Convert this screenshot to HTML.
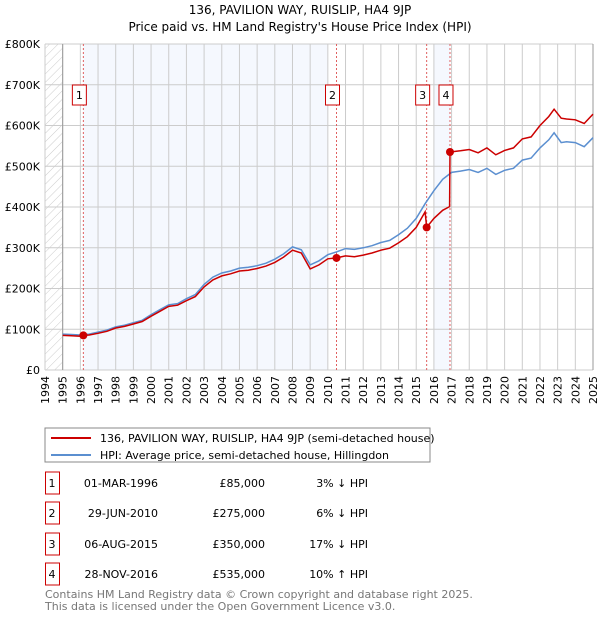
<!DOCTYPE html>
<html><head><meta charset="utf-8"><style>
body{margin:0;background:#fff;width:600px;height:620px;overflow:hidden;font-family:"Liberation Sans","DejaVu Sans",sans-serif}
svg text{font-family:"DejaVu Sans","Liberation Sans",sans-serif}
</style></head><body>
<svg id="c" width="600" height="620" xmlns="http://www.w3.org/2000/svg">
<defs><pattern id="hatch" width="6" height="6" patternUnits="userSpaceOnUse" patternTransform="rotate(45)"><line x1="0" y1="0" x2="0" y2="6" stroke="#ccc" stroke-width="1"/></pattern></defs>
<text x="300" y="14" text-anchor="middle" font-size="12">136, PAVILION WAY, RUISLIP, HA4 9JP</text>
<text x="300" y="31" text-anchor="middle" font-size="12">Price paid vs. HM Land Registry's House Price Index (HPI)</text>
<g id="plot"></g>
<rect x="45" y="428" width="385" height="34" fill="#fff" stroke="#888"/>
<line x1="51" y1="438" x2="91" y2="438" stroke="#cc0000" stroke-width="2"/>
<text x="100" y="442" font-size="11">136, PAVILION WAY, RUISLIP, HA4 9JP (semi-detached house)</text>
<line x1="51" y1="455" x2="91" y2="455" stroke="#5b8fd0" stroke-width="2"/>
<text x="100" y="459" font-size="11">HPI: Average price, semi-detached house, Hillingdon</text>
<g id="table"></g>
<text x="45" y="598" font-size="11" fill="#777">Contains HM Land Registry data © Crown copyright and database right 2025.</text>
<text x="45" y="610" font-size="11" fill="#777">This data is licensed under the Open Government Licence v3.0.</text>
</svg>
<script>
const hpiYears=[1995,1995.5,1996,1996.5,1997,1997.5,1998,1998.5,1999,1999.5,2000,2000.5,2001,2001.5,2002,2002.5,2003,2003.5,2004,2004.5,2005,2005.5,2006,2006.5,2007,2007.5,2008,2008.5,2009,2009.5,2010,2010.5,2011,2011.5,2012,2012.5,2013,2013.5,2014,2014.5,2015,2015.5,2016,2016.5,2017,2017.5,2018,2018.5,2019,2019.5,2020,2020.5,2021,2021.5,2022,2022.5,2022.8,2023.2,2023.5,2024,2024.5,2025];
const hpiValues=[88,87,86,88,93,98,106,110,116,122,136,148,160,163,175,185,210,228,238,243,250,252,256,262,272,285,302,295,258,268,283,290,298,296,300,305,313,318,332,348,372,408,440,468,485,488,492,485,495,480,490,495,515,520,545,565,582,558,560,558,548,570];
const redYears=[1995,1995.5,1996,1996.17,1996.5,1997,1997.5,1998,1998.5,1999,1999.5,2000,2000.5,2001,2001.5,2002,2002.5,2003,2003.5,2004,2004.5,2005,2005.5,2006,2006.5,2007,2007.5,2008,2008.5,2009,2009.5,2010,2010.49,2011,2011.5,2012,2012.5,2013,2013.5,2014,2014.5,2015,2015.5,2015.59,2016,2016.5,2016.89,2016.91,2017.5,2018,2018.5,2019,2019.5,2020,2020.5,2021,2021.5,2022,2022.5,2022.8,2023.2,2023.5,2024,2024.5,2025];
const redValues=[85,84,83,85,86,90,95,103,107,113,119,132,144,156,159,170,180,204,221,231,236,243,245,249,255,264,277,294,287,248,258,273,275,280,278,282,287,294,299,312,327,350,388,350,372,392,401,535,538,541,533,545,528,539,545,567,572,600,622,640,618,616,614,605,628];
const saleDates=[1996.17,2010.49,2015.59,2016.91];
const salePrices=[85,275,350,535];
const saleLabels=["1","2","3","4"];
const saleDateText=["01-MAR-1996","29-JUN-2010","06-AUG-2015","28-NOV-2016"];
const salePriceText=["£85,000","£275,000","£350,000","£535,000"];
const saleHpiText=["3% ↓ HPI","6% ↓ HPI","17% ↓ HPI","10% ↑ HPI"];
const yTicks=[0,100,200,300,400,500,600,700,800];
const yTickLabels=["£0","£100K","£200K","£300K","£400K","£500K","£600K","£700K","£800K"];
const NS="http://www.w3.org/2000/svg";
const X0=45,X1=593,Y0=370,Y1=44;
const x=t=>X0+(t-1994)/31*(X1-X0);
const y=v=>Y0-v/800*(Y0-Y1);
function mk(tag,attrs,parent){const e=document.createElementNS(NS,tag);for(const k in attrs)e.setAttribute(k,attrs[k]);parent.appendChild(e);return e;}
const g=document.getElementById('plot');
let r=mk('rect',{x:X0,y:Y1,width:X1-X0,height:Y0-Y1,fill:'#fff'},g);


r=mk('rect',{x:X0,y:Y1,width:x(1995)-X0,height:Y0-Y1,fill:'url(#hatch)'},g);


r=mk('rect',{x:x(saleDates[0]),y:Y1,width:x(2010)-x(saleDates[0]),height:Y0-Y1,fill:'#f5f8fe'},g);


r=mk('rect',{x:x(2016),y:Y1,width:x(saleDates[3])-x(2016),height:Y0-Y1,fill:'#f5f8fe'},g);


for(let yr=1994;yr<=2025;yr++){
  const l=mk('line',{x1:x(yr),x2:x(yr),y1:Y1,y2:Y0,stroke:'#ccc','stroke-width':1},g);
  
  
  const t=mk('text',{x:0,y:0,'font-size':11,'text-anchor':'end',transform:`translate(${x(yr)+4},${Y0+6}) rotate(-90)`},g);
  t.textContent=yr;
  
  
}
yTicks.forEach((v,i)=>{
  const l=mk('line',{x1:X0,x2:X1,y1:y(v),y2:y(v),stroke:'#ccc','stroke-width':1},g);
  
  
  const t=mk('text',{x:40,y:y(v)+4,'font-size':11,'text-anchor':'end'},g);
  t.textContent=yTickLabels[i];
  
  
});
let l=mk('line',{x1:x(1995),x2:x(1995),y1:Y1,y2:Y0,stroke:'#999'},g);


l=mk('line',{x1:X1,x2:X1,y1:Y1,y2:Y0,stroke:'#999'},g);


saleDates.forEach((d,i)=>{
  const dl=mk('line',{x1:x(d),x2:x(d),y1:Y1,y2:Y0,stroke:'#e06060','stroke-dasharray':'2,2'},g);
  
  
  const b=mk('rect',{x:x(d)-11,y:85,width:14,height:20,fill:'#fff',stroke:'#c00'},g);
  
  
  const t=mk('text',{x:x(d)-4,y:99,'font-size':11,'text-anchor':'middle'},g);
  t.textContent=saleLabels[i];
  
  
});
const pts=(xs,vs)=>xs.map((t,i)=>x(t).toFixed(1)+','+y(vs[i]).toFixed(1)).join(' ');
let p=mk('polyline',{points:pts(hpiYears,hpiValues),fill:'none',stroke:'#5b8fd0','stroke-width':1.5},g);


p=mk('polyline',{points:pts(redYears,redValues),fill:'none',stroke:'#cc0000','stroke-width':1.5},g);


saleDates.forEach((d,i)=>{
  const c=mk('circle',{cx:x(d),cy:y(salePrices[i]),r:4,fill:'#cc0000'},g);
  
  
});
const tb=document.getElementById('table');
const rowY=[483,513,544,574];
saleLabels.forEach((s,i)=>{
  const b=mk('rect',{x:45.5,y:rowY[i]-11,width:14,height:22,fill:'#fff',stroke:'#c00'},tb);
  
  
  const cells=[[52,'middle',s,'table-row-number'],[158,'end',saleDateText[i],'table-date'],[265,'end',salePriceText[i],'table-price'],[368,'end',saleHpiText[i],'table-hpi-diff']];
  cells.forEach(c=>{
    const t=mk('text',{x:c[0],y:rowY[i]+4,'font-size':11,'text-anchor':c[1]},tb);
    t.textContent=c[2];
    
    
  });
});
</script>
</body></html>
